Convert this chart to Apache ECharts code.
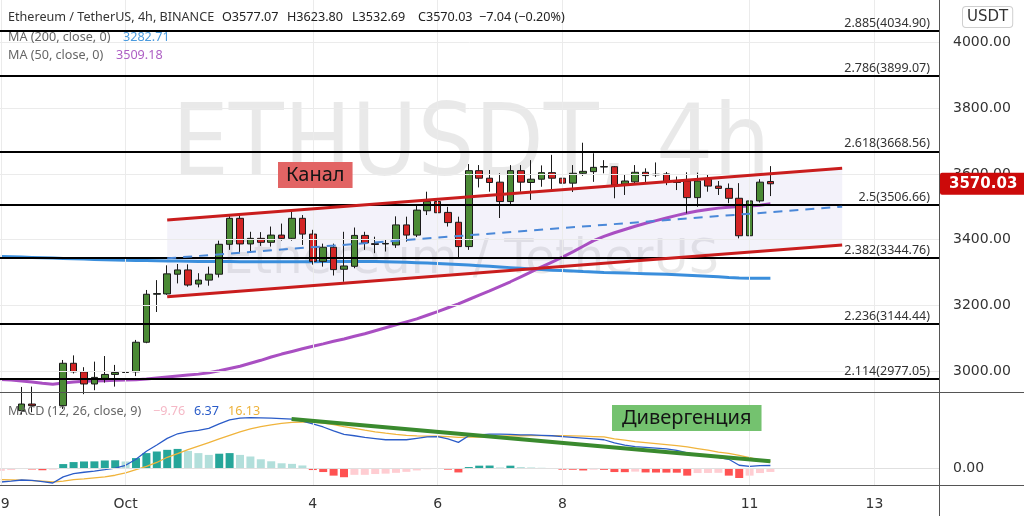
<!DOCTYPE html>
<html><head><meta charset="utf-8">
<script src="https://cdn.jsdelivr.net/npm/echarts@6/dist/echarts.min.js"></script>
<style>html,body{margin:0;padding:0;background:#fff}#c{width:1024px;height:516px}</style>
</head><body><div id="c"></div>
<script>
// ---------- data ----------
const dayTicks = [0, 12, 30, 42, 54, 72, 84];
const dayLabels = ['29', 'Oct', '4', '6', '8', '11', '13'];
const priceTicks = [3000, 3200, 3400, 3600, 3800, 4000];
// [open, close, low, high] per 4h bar
const candles = [
  [2905,2890,2870,2925],[2890,2880,2860,2915],[2880,2900,2868,2952],[2900,2895,2875,2953],[2895,2885,2862,2925],
  [2885,2895,2870,2930],[2895,3024,2885,3034],[3024,2998,2993,3048],[2998,2961,2930,3012],[2961,2981,2942,3029],
  [2978,2990,2965,3046],[2990,2996,2953,3019],[2996,2998.5,2978,3042],[2998,3088,2985,3095],[3088,3234,3085,3247],
  [3234,3236,3180,3277],[3235,3296,3232,3322],[3295,3308,3267,3326],[3308,3262,3257,3325],[3265,3277,3255,3298],
  [3277,3295,3260,3318],[3295,3386,3285,3397],[3386,3465,3369,3478],[3465,3387,3362,3475],[3387,3404,3360,3424],
  [3404,3392,3381,3423],[3392,3414,3379,3440],[3414,3404,3397,3449],[3404,3465,3397,3487],[3465,3417,3384,3475],
  [3417,3334,3324,3430],[3334,3377,3318,3388],[3377,3309,3291,3388],[3310,3320,3272,3424],[3319,3413,3313,3437],
  [3413,3390,3369,3424],[3388,3385.5,3359,3409],[3387,3388.5,3364,3399],[3384,3445,3375,3471],[3445,3414,3394,3470],
  [3414,3490,3408,3505],[3488,3516,3475,3546],[3516,3482,3470,3541],[3483,3452,3440,3500],[3453,3379,3346,3470],
  [3379,3610,3369,3630],[3610,3587,3559,3627],[3587,3574,3546,3612],[3575,3516,3466,3602],[3516,3610,3506,3627],
  [3610,3575,3546,3627],[3574,3584,3521,3642],[3584,3604,3561,3626],[3604,3587,3553,3658],[3587,3572,3546,3617],
  [3572,3602,3545,3627],[3602,3608,3594,3695],[3607,3620,3576,3663],[3621,3622.5,3602,3642],[3622,3566,3526,3624],
  [3569,3578.5,3536,3597],[3576,3605,3572,3627],[3605,3595,3572,3617],[3599,3597.5,3591,3635],[3600,3575,3566,3606],
  [3576,3574,3551,3592],[3578.5,3528,3480,3605],[3528,3578.5,3500,3604],[3584,3563,3546,3597],[3563,3556,3536,3578.5],
  [3556,3526,3511,3571],[3526,3412,3404,3572],[3412,3518,3363,3536],[3518,3575,3513,3584],[3577.07,3570.03,3532.69,3623.80]
];
const ma200 = [3349,3348,3347,3346,3345, 3344,3343,3342,3341,3340, 3339,3338,3337.5,3337,3336.5,
  3336,3335.5,3335,3334.5,3334, 3334,3333.5,3333.5,3333,3333, 3333,3333,3333,3333,3333,
  3333,3333.5,3334,3334,3334, 3334,3334,3333,3332,3331, 3330,3329,3327.5,3326,3324.5,
  3323,3321,3319,3317,3315, 3313,3311,3309,3307,3306, 3304.5,3303,3302,3300.5,3299.5,
  3298.5,3297.5,3296.5,3295.5,3294.5, 3293.5,3292,3290.5,3289,3287, 3285,3283.5,3282.5,3282.5,3282.71];
const ma50 = [2975,2973,2970,2967,2963, 2960,2964,2967,2969,2970, 2971,2972,2973,2974,2976,
  2979,2982,2985,2988,2991, 2995,3001,3008,3015,3024, 3033,3043,3052,3060,3068,
  3076,3083,3091,3098,3106, 3114,3123,3132,3141,3150, 3159,3170,3181,3193,3205,
  3218,3231,3244,3258,3272, 3287,3302,3317,3332,3347, 3363,3380,3397,3410,3421,
  3431,3441,3450,3458,3466, 3474,3481,3487,3492,3496, 3499,3501,3502.5,3505,3509.18];
const macdLine = [-35,-33,-30,-31,-34, -37.5,-22,-14,-10.5,-7.5, -4,0,7,22,42,
  58,74.5,86,91.5,94.5, 99.5,111,121,125,126.5, 126,125,124,122.5,118,
  111,103,93,84.5,81, 77,74,71,71,71, 74.5,78,79,73,64.5,
  81,83,85,85,84.5, 83,83,82,81,79, 77,75,73,71,63,
  57.5,54,52,50,48, 44.5,38,33,30,27, 22,7,4,6,6.37];
const signalLine = [-29,-29.5,-30.5,-31.5,-33, -35,-33,-29,-27,-24.5, -22,-18,-12,-4,4,
  14,27,36,46,55, 64,73,82,91,98, 104,108.5,112,114.5,115.5,
  115,113,109,104,99.5, 95,91,87.5,84.5,82, 80.5,80,79.8,79,77,
  77.5,77.5,78.5,80,80.5, 81,81.5,81.5,81.5,81, 80.5,80,79,78,73,
  70,66.5,64,61.5,59, 56,53,49,45,40, 37,32,26,20,16.13];
const histogram = [-7,-5,-2,-3.5,-5.5, -4,10,15,16.5,16.8, 19,19.5,16.5,25,37.5,
  41.5,45.7,48,43,37.5, 33,36,37.5,33,29, 22,17,12,10.5,6.5,
  -5,-10,-19,-23,-17, -17,-15,-14,-12,-9.5, -6,-3,-1,-4,-11,
  2.5,6,6.3,1.5,6, 2.5,1.5,0.7,-1.5,-4, -4.2,-6,-4,-4.5,-10,
  -10.3,-9,-11,-11.2,-11.4, -11.6,-19,-12.5,-12.3,-12, -19,-25,-19,-12.5,-9.76];
const fibRatios = ['2.885', '2.786', '2.618', '2.5', '2.382', '2.236', '2.114'];
const fibPrices = [4034.90, 3899.07, 3668.56, 3506.66, 3344.76, 3144.44, 2977.05];
const channelX = [16.0, 80.9];
const channelUpper = [3460.0, 3617.3];
const channelLower = [3226.6, 3383.8];
const channelMid = [3343.3, 3500.5];
const divergenceX = [27.96, 74.0];
const divergenceY = [123, 17];
const lastClose = 3570.03;
const header = { o: '3577.07', h: '3623.80', l: '3532.69', c: '3570.03', chg: '\u22127.04 (\u22120.20%)' };
const maLast = { ma200: '3282.71', ma50: '3509.18' };
const macdLast = { hist: '\u22129.76', macd: '6.37', signal: '16.13' };

// ---------- layout ----------
const PLOT_W = 939, BAR_PX = 10.4;
const XMIN = -0.8 / BAR_PX, XMAX = XMIN + PLOT_W / BAR_PX;
const YMIN = 2936.6, YMAX = 4129.2;
const MMIN = -43.75, MMAX = 190.75;
const FONT = '"Noto Sans", "DejaVu Sans", sans-serif';
const AXFONT = '"DejaVu Sans", sans-serif';
const HF = '12.6px ' + FONT;

const chart = echarts.init(document.getElementById('c'), null, { renderer: 'canvas' });
const idx = a => a.map((v, i) => [i, v]);

function histColor(p) {
  const i = p.dataIndex, v = histogram[i], prev = i > 0 ? histogram[i - 1] : v;
  if (v >= 0) return v > prev ? '#26A69A' : '#B2DFDB';
  return v < prev ? '#FF5252' : '#FFCDD2';
}

const gridLineStyle = { color: '#EBEBEB', width: 1, type: 'solid' };

const option = {
  animation: false,
  backgroundColor: '#ffffff',
  grid: [
    { left: 0, top: 0, width: PLOT_W, height: 392, outerBoundsMode: 'none', containLabel: false },
    { left: 0, top: 392, width: PLOT_W, height: 93.5, outerBoundsMode: 'none', containLabel: false }
  ],
  xAxis: [
    { gridIndex: 0, type: 'value', min: XMIN, max: XMAX, show: false },
    { gridIndex: 1, type: 'value', min: XMIN, max: XMAX,
      axisLine: { show: false }, axisTick: { show: false }, splitLine: { show: false },
      axisLabel: { customValues: dayTicks, formatter: v => dayLabels[dayTicks.indexOf(v)] ?? '',
        hideOverlap: false, color: '#333', fontSize: 14, fontFamily: AXFONT, margin: 12 } }
  ],
  yAxis: [
    { gridIndex: 0, type: 'value', position: 'right', min: YMIN, max: YMAX,
      axisLine: { show: false }, axisTick: { show: false }, splitLine: { show: false },
      axisLabel: { customValues: priceTicks, formatter: v => v.toFixed(2), color: '#333',
        fontSize: 14, fontFamily: AXFONT, margin: 14 } },
    { gridIndex: 1, type: 'value', position: 'right', min: MMIN, max: MMAX,
      axisLine: { show: false }, axisTick: { show: false }, splitLine: { show: false },
      axisLabel: { customValues: [0], formatter: v => v.toFixed(2), color: '#333',
        fontSize: 14, fontFamily: AXFONT, margin: 14 } }
  ],
  series: [
    { type: 'line', xAxisIndex: 0, yAxisIndex: 0, data: [], z: 0, silent: true,
      markLine: { silent: true, symbol: 'none', label: { show: false }, lineStyle: gridLineStyle, animation: false,
        data: priceTicks.map(v => ({ yAxis: v })).concat(dayTicks.map(v => ({ xAxis: v }))) } },
    { type: 'line', xAxisIndex: 1, yAxisIndex: 1, data: [], z: 0, silent: true,
      markLine: { silent: true, symbol: 'none', label: { show: false }, lineStyle: gridLineStyle, animation: false,
        data: [{ yAxis: 0, lineStyle: { color: '#E0E0E0' } }].concat(dayTicks.map(v => ({ xAxis: v }))) } },
    { type: 'custom', xAxisIndex: 0, yAxisIndex: 0, z: 1, silent: true,
      data: [[channelX[0], channelLower[0]]],
      renderItem: (params, api) => ({
        type: 'polygon',
        shape: { points: [
          api.coord([channelX[0], channelLower[0]]), api.coord([channelX[1], channelLower[1]]),
          api.coord([channelX[1], channelUpper[1]]), api.coord([channelX[0], channelUpper[0]]) ] },
        style: { fill: 'rgba(120,110,200,0.09)' }
      }) },
    { type: 'line', xAxisIndex: 0, yAxisIndex: 0, data: [], z: 2, silent: true, clip: false,
      markLine: { silent: true, symbol: 'none', animation: false,
        lineStyle: { color: '#000', width: 2, type: 'solid' },
        label: { show: true, position: 'insideEndTop', distance: [9, 1], color: '#333', fontSize: 12.5, fontFamily: FONT,
          formatter: p => fibRatios[p.dataIndex] + '(' + fibPrices[p.dataIndex].toFixed(2) + ')' },
        data: fibPrices.map(v => ({ yAxis: v })) } },
    { name: 'MA200', type: 'line', xAxisIndex: 0, yAxisIndex: 0, data: idx(ma200), z: 3, symbol: 'none',
      lineStyle: { color: '#3A8EDC', width: 3 } },
    { name: 'MA50', type: 'line', xAxisIndex: 0, yAxisIndex: 0, data: idx(ma50), z: 3, symbol: 'none',
      lineStyle: { color: '#A94FC2', width: 3 } },
    { type: 'candlestick', xAxisIndex: 0, yAxisIndex: 0, z: 4, barWidth: 7, clip: true,
      data: candles.map((c, i) => [i, c[0], c[1], c[2], c[3]]),
      itemStyle: { color: '#4B8A35', color0: '#D32424', borderColor: '#1b1b1b', borderColor0: '#1b1b1b', borderWidth: 1 } },
    { type: 'line', xAxisIndex: 0, yAxisIndex: 0, z: 5, symbol: 'none',
      data: [[channelX[0], channelUpper[0]], [channelX[1], channelUpper[1]]], lineStyle: { color: '#C91D1D', width: 3 } },
    { type: 'line', xAxisIndex: 0, yAxisIndex: 0, z: 5, symbol: 'none',
      data: [[channelX[0], channelLower[0]], [channelX[1], channelLower[1]]], lineStyle: { color: '#C91D1D', width: 3 } },
    { type: 'line', xAxisIndex: 0, yAxisIndex: 0, z: 5, symbol: 'none',
      data: [[channelX[0], channelMid[0]], [channelX[1], channelMid[1]]], lineStyle: { color: '#4A88D8', width: 2, type: [9, 7] } },
    { type: 'line', xAxisIndex: 0, yAxisIndex: 0, data: [], z: 8, clip: false, silent: true,
      markLine: { silent: true, symbol: 'none', animation: false,
        lineStyle: { color: 'rgba(0,0,0,0)', width: 0 },
        label: { show: true, position: 'end', distance: 1, formatter: () => lastClose.toFixed(2),
          backgroundColor: '#CC0A0A', color: '#fff', fontWeight: 'bold', fontSize: 15, fontFamily: AXFONT,
          padding: [4, 9, 3, 9], borderRadius: 2 },
        data: [{ yAxis: lastClose }] } },
    { type: 'bar', xAxisIndex: 1, yAxisIndex: 1, z: 3, barWidth: 8, data: idx(histogram),
      itemStyle: { color: histColor } },
    { type: 'line', xAxisIndex: 1, yAxisIndex: 1, z: 4, symbol: 'none', data: idx(signalLine),
      lineStyle: { color: '#F0B43C', width: 1.3 } },
    { type: 'line', xAxisIndex: 1, yAxisIndex: 1, z: 4, symbol: 'none', data: idx(macdLine),
      lineStyle: { color: '#2B5CC8', width: 1.3 } },
    { type: 'line', xAxisIndex: 1, yAxisIndex: 1, z: 5, symbol: 'none',
      data: [[divergenceX[0], divergenceY[0]], [divergenceX[1], divergenceY[1]]], lineStyle: { color: '#3A8A2E', width: 4 } }
  ],
  graphic: [
    { type: 'text', z: 0, x: 172, y: 99, scaleX: 0.9, silent: true,
      style: { text: 'ETHUSDT, 4h', font: '100px "DejaVu Sans"', fill: 'rgba(0,0,0,0.085)', verticalAlign: 'top' } },
    { type: 'text', z: 0, silent: true, x: 471, y: 261,
      style: { text: 'Ethereum / TetherUS', font: '48px "DejaVu Sans"', fill: 'rgba(0,0,0,0.085)', align: 'center', verticalAlign: 'middle' } },
    // header
    { type: 'text', z: 50, x: 8, y: 17, style: { text: 'Ethereum / TetherUS, 4h, BINANCE', font: HF, fill: '#333', verticalAlign: 'middle' } },
    { type: 'text', z: 50, x: 222, y: 17, style: { text: 'O' + header.o, font: HF, fill: '#222', verticalAlign: 'middle' } },
    { type: 'text', z: 50, x: 287, y: 17, style: { text: 'H' + header.h, font: HF, fill: '#222', verticalAlign: 'middle' } },
    { type: 'text', z: 50, x: 352, y: 17, style: { text: 'L' + header.l, font: HF, fill: '#222', verticalAlign: 'middle' } },
    { type: 'text', z: 50, x: 418, y: 17, style: { text: 'C' + header.c, font: HF, fill: '#222', verticalAlign: 'middle' } },
    { type: 'text', z: 50, x: 479, y: 17, style: { text: header.chg, font: HF, fill: '#222', verticalAlign: 'middle' } },
    { type: 'text', z: 50, x: 8, y: 37, style: { text: 'MA (200, close, 0)', font: HF, fill: '#666', verticalAlign: 'middle' } },
    { type: 'text', z: 50, x: 123, y: 37, style: { text: maLast.ma200, font: HF, fill: '#4A9BDF', verticalAlign: 'middle' } },
    { type: 'text', z: 50, x: 8, y: 55, style: { text: 'MA (50, close, 0)', font: HF, fill: '#666', verticalAlign: 'middle' } },
    { type: 'text', z: 50, x: 116, y: 55, style: { text: maLast.ma50, font: HF, fill: '#AE5FC4', verticalAlign: 'middle' } },
    { type: 'text', z: 50, x: 8, y: 411, style: { text: 'MACD (12, 26, close, 9)', font: HF, fill: '#666', verticalAlign: 'middle' } },
    { type: 'text', z: 50, x: 153, y: 411, style: { text: macdLast.hist, font: HF, fill: '#F5B8C6', verticalAlign: 'middle' } },
    { type: 'text', z: 50, x: 194, y: 411, style: { text: macdLast.macd, font: HF, fill: '#2B5CC8', verticalAlign: 'middle' } },
    { type: 'text', z: 50, x: 228, y: 411, style: { text: macdLast.signal, font: HF, fill: '#EDB23A', verticalAlign: 'middle' } },
    // annotations
    { type: 'text', z: 60, x: 278, y: 162, style: { text: 'Канал', font: '20px ' + FONT, fill: '#151515', backgroundColor: '#E26464', padding: [3, 8, 3, 8] } },
    { type: 'text', z: 60, x: 612, y: 405, style: { text: 'Дивергенция', font: '20px ' + FONT, fill: '#151515', backgroundColor: '#74C26F', padding: [3, 10, 3, 10] } },
    // axis unit box
    { type: 'text', z: 60, x: 963, y: 7, style: { text: 'USDT', font: '15px ' + AXFONT, fill: '#333', backgroundColor: '#fff', borderColor: '#CFCFCF', borderWidth: 1, borderRadius: 3, padding: [3, 4, 2, 4] } },
    // pane separators
    { type: 'line', z: 40, silent: true, shape: { x1: 0, y1: 392.5, x2: 1024, y2: 392.5 }, style: { stroke: '#555', lineWidth: 1 } },
    { type: 'line', z: 40, silent: true, shape: { x1: 0, y1: 485.5, x2: 1024, y2: 485.5 }, style: { stroke: '#555', lineWidth: 1 } },
    { type: 'line', z: 40, silent: true, shape: { x1: 939.5, y1: 0, x2: 939.5, y2: 516 }, style: { stroke: '#555', lineWidth: 1 } }
  ]
};
chart.setOption(option);
</script></body></html>
